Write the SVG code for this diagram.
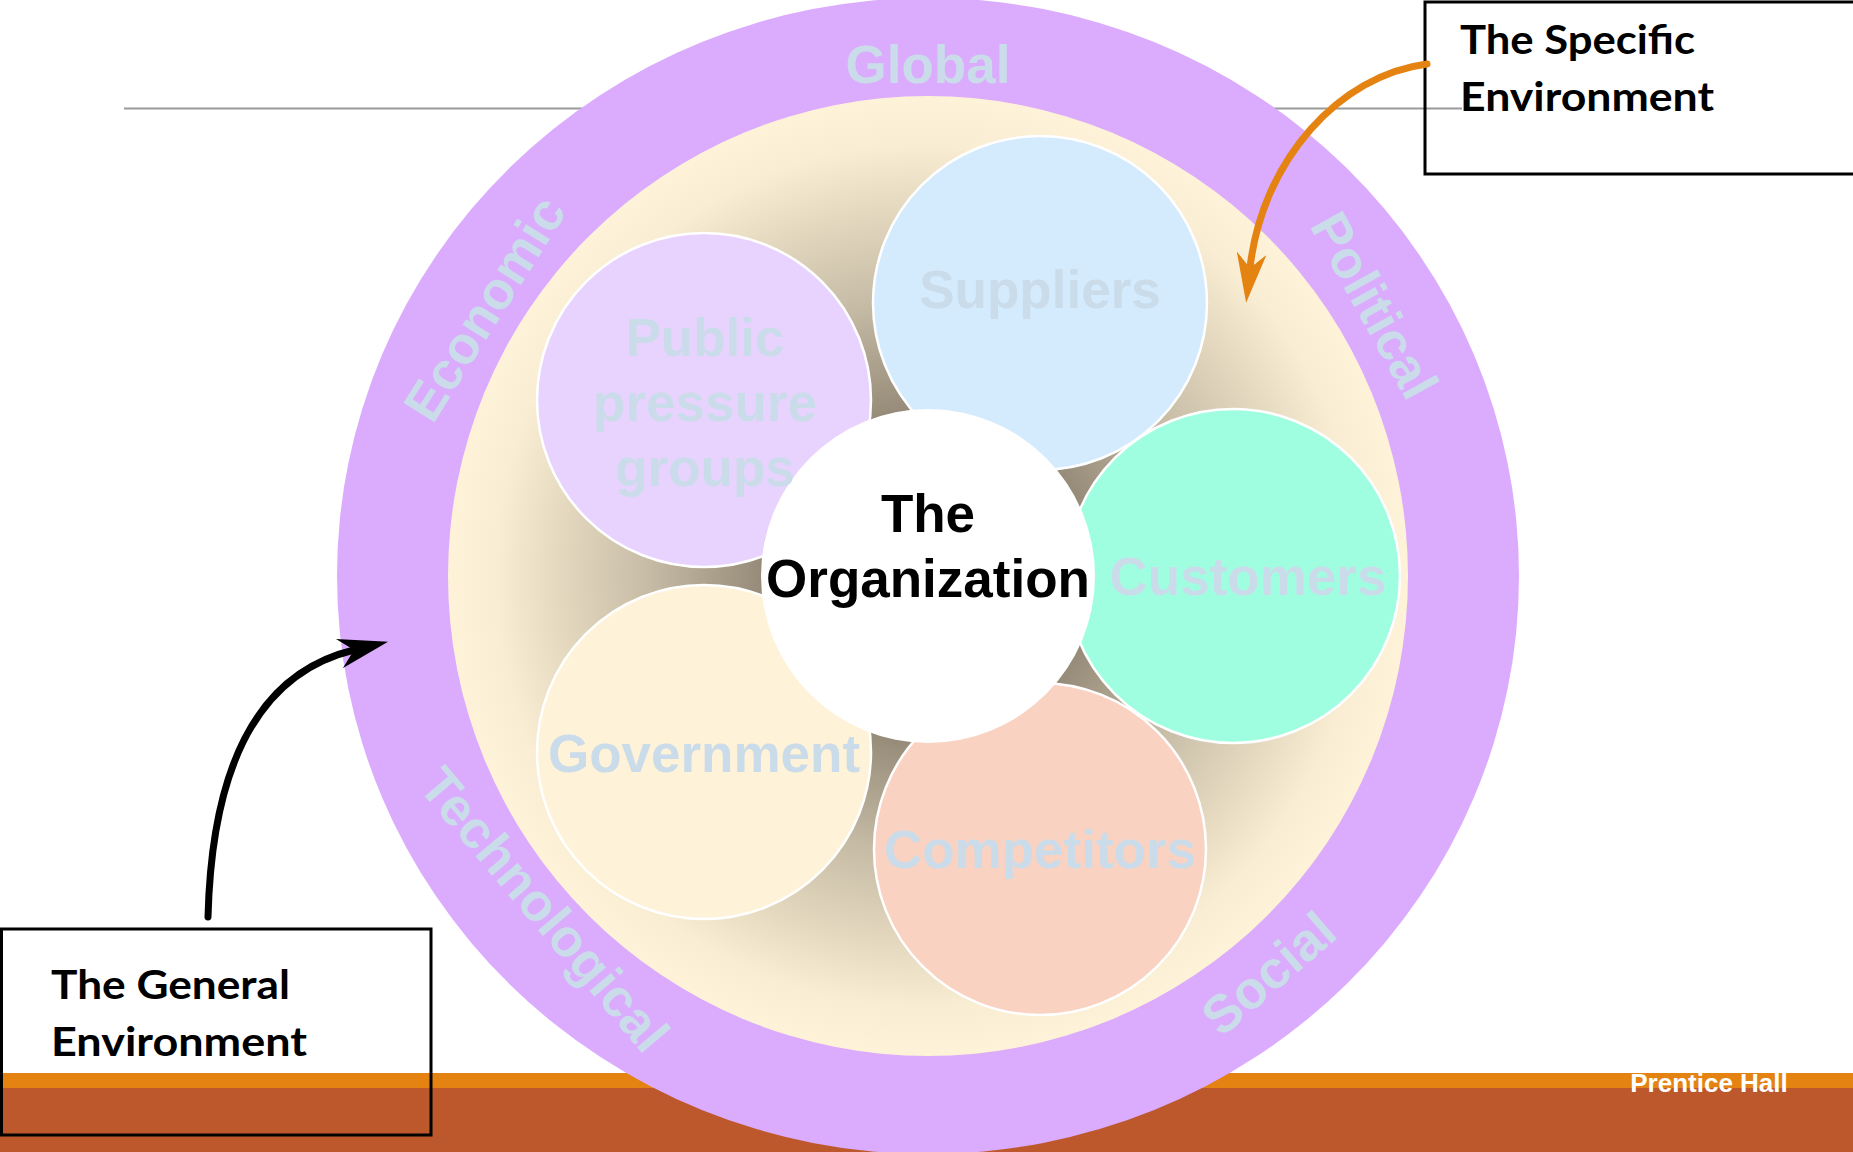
<svg xmlns="http://www.w3.org/2000/svg" width="1853" height="1152" viewBox="0 0 1853 1152">
  <defs>
    <radialGradient id="coreShade" gradientUnits="userSpaceOnUse" cx="928" cy="576" r="480">
      <stop offset="0" stop-color="#8c826f"/>
      <stop offset="0.35" stop-color="#968c79"/>
      <stop offset="0.58" stop-color="#c6bba5"/>
      <stop offset="0.78" stop-color="#e6dac1"/>
      <stop offset="0.9" stop-color="#f9edd3"/>
      <stop offset="1" stop-color="#fef2d8"/>
    </radialGradient>
    <marker id="headOrange" viewBox="0 0 50 30" refX="15" refY="15" markerWidth="50" markerHeight="30" markerUnits="userSpaceOnUse" orient="auto">
      <path d="M0,0 L50,15 L0,30 L15,15 Z" fill="#e48312"/>
    </marker>
    <marker id="headBlack" viewBox="0 0 50 30" refX="15" refY="15" markerWidth="50" markerHeight="30" markerUnits="userSpaceOnUse" orient="auto">
      <path d="M0,0 L50,15 L0,30 L15,15 Z" fill="#000000"/>
    </marker>
  </defs>
  <style>
    .bubble { stroke: #ffffff; stroke-width: 2.5; }
    .soft { font-family: "Liberation Sans", Arial, sans-serif; font-weight: bold; font-size: 53px; fill: #cadcea; text-anchor: middle; }
    .core { font-family: "Liberation Sans", Arial, sans-serif; font-weight: bold; font-size: 53px; fill: #000000; text-anchor: middle; }
    .callout { fill: none; stroke: #000000; stroke-width: 3; }
    .callout-text { font-family: Lato, "Open Sans", sans-serif; font-weight: bold; font-size: 41px; fill: #000000; }
    .link { fill: none; stroke-width: 7; stroke-linecap: round; }
  </style>

  <!-- page background, rule and footer bands -->
  <rect x="0" y="0" width="1853" height="1152" fill="#ffffff"/>
  <line x1="124" y1="108.5" x2="1462" y2="108.5" stroke="#9a9a9a" stroke-width="2"/>
  <rect x="0" y="1073" width="1853" height="15" fill="#e48312"/>
  <rect x="0" y="1088" width="1853" height="64" fill="#bd582c"/>
  <text x="1709" y="1092" font-family="Liberation Sans, Arial, sans-serif" font-weight="bold" font-size="26" fill="#ffffff" text-anchor="middle">Prentice Hall</text>

  <!-- general environment ring -->
  <g id="general-environment">
    <ellipse cx="928" cy="576" rx="591" ry="578" fill="#dbabfd"/>
  </g>

  <!-- specific environment disc -->
  <g id="specific-environment">
    <circle cx="928" cy="576" r="480" fill="url(#coreShade)"/>
  </g>

  <g id="public-pressure-groups">
    <circle class="bubble" cx="704" cy="400" r="167" fill="#e8d3fe"/>
  </g>
  <g id="government">
    <circle class="bubble" cx="704" cy="752" r="167" fill="#fef2d8"/>
  </g>
  <g id="suppliers">
    <circle class="bubble" cx="1040" cy="303" r="167" fill="#d4eafd"/>
  </g>
  <g id="competitors">
    <circle class="bubble" cx="1040" cy="849" r="166" fill="#fad2c2"/>
  </g>
  <g id="customers">
    <circle class="bubble" cx="1233" cy="576" r="167" fill="#a0fee0"/>
  </g>
  <g id="organization">
    <circle cx="928" cy="576" r="167" fill="#ffffff"/>
  </g>

  <!-- bubble labels -->
  <g id="bubble-labels">
    <text class="soft" x="705" y="356">Public</text>
    <text class="soft" x="705" y="421">pressure</text>
    <text class="soft" x="705" y="486">groups</text>
    <text class="soft" x="1040" y="308">Suppliers</text>
    <text class="soft" x="1248" y="595">Customers</text>
    <text class="soft" x="1040" y="868">Competitors</text>
    <text class="soft" x="704" y="772">Government</text>
    <text class="core" x="928" y="532">The</text>
    <text class="core" x="928" y="597">Organization</text>
  </g>

  <!-- ring labels -->
  <g id="ring-labels">
    <text class="soft" x="928" y="83">Global</text>
    <text class="soft" transform="translate(484,308) rotate(-57.7)" x="0" y="19">Economic</text>
    <text class="soft" transform="translate(1375,305) rotate(60.9)" x="0" y="19">Political</text>
    <text class="soft" transform="translate(545,909) rotate(49.8)" x="0" y="19">Technological</text>
    <text class="soft" transform="translate(1268,973) rotate(-40.7)" x="0" y="19">Social</text>
  </g>

  <!-- callout boxes -->
  <g id="specific-callout">
    <rect class="callout" x="1425" y="2" width="460" height="172"/>
    <text class="callout-text" x="1460" y="54" textLength="235" lengthAdjust="spacingAndGlyphs">The Specific</text>
    <text class="callout-text" x="1460" y="111" textLength="254" lengthAdjust="spacingAndGlyphs">Environment</text>
  </g>
  <g id="general-callout">
    <rect class="callout" x="1.5" y="929" width="429.5" height="206"/>
    <text class="callout-text" x="51" y="999" textLength="239" lengthAdjust="spacingAndGlyphs">The General</text>
    <text class="callout-text" x="51" y="1056" textLength="256" lengthAdjust="spacingAndGlyphs">Environment</text>
  </g>

  <!-- connectors -->
  <g id="connectors">
    <path class="link" d="M1427,64 C1340,75 1262,160 1250,268" stroke="#e48312" marker-end="url(#headOrange)"/>
    <path class="link" d="M208,917 C212,760 262,672 354,650" stroke="#000000" marker-end="url(#headBlack)"/>
  </g>
</svg>
